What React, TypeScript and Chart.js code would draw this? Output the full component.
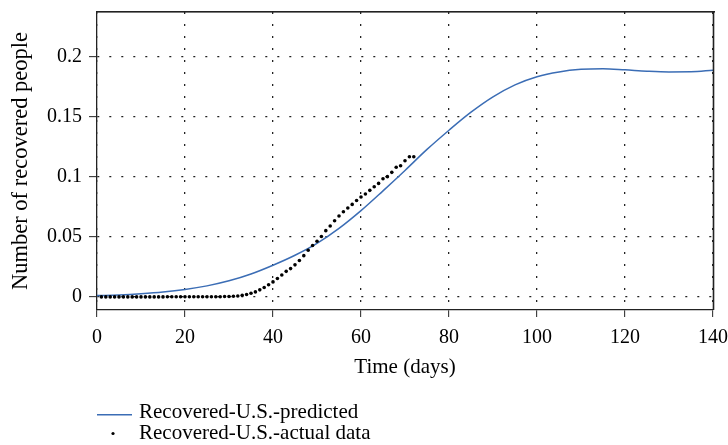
import React, { useEffect, useRef } from "react";
import { Chart, registerables } from "chart.js";

Chart.register(...registerables);

const predDays = [0, 5, 10, 15, 20, 25, 30, 35, 40, 45, 50, 55, 60, 65, 70, 75, 80, 85, 90, 95, 100, 105, 110, 115, 120, 125, 130, 135, 140];
const predValues = [0.0012, 0.0018, 0.0028, 0.0042, 0.0063, 0.0093, 0.0135, 0.0192, 0.0265, 0.0348, 0.0447, 0.0572, 0.072, 0.0885, 0.1055, 0.123, 0.139, 0.154, 0.1668, 0.1768, 0.1836, 0.1876, 0.1897, 0.1902, 0.1893, 0.1882, 0.1876, 0.1877, 0.189];

const actualDays = [1, 2, 3, 4, 5, 6, 7, 8, 9, 10, 11, 12, 13, 14, 15, 16, 17, 18, 19, 20, 21, 22, 23, 24, 25, 26, 27, 28, 29, 30, 31, 32, 33, 34, 35, 36, 37, 38, 39, 40, 41, 42, 43, 44, 45, 46, 47, 48, 49, 50, 51, 52, 53, 54, 55, 56, 57, 58, 59, 60, 61, 62, 63, 64, 65, 66, 67, 68, 69, 70, 71, 72];
const actualValues = [0.0001, 0.0001, 0.0001, 0.0001, 0.0001, 0.0001, 0.0001, 0.0001, 0.0001, 0.0001, 0.0001, 0.0001, 0.0001, 0.0001, 0.0001, 0.0002, 0.0002, 0.0002, 0.0002, 0.0002, 0.0002, 0.0002, 0.0002, 0.0002, 0.0002, 0.0002, 0.0003, 0.0003, 0.0004, 0.0005, 0.0006, 0.0009, 0.0014, 0.0021, 0.0031, 0.0043, 0.006, 0.008, 0.0103, 0.0126, 0.0154, 0.0184, 0.0214, 0.0237, 0.0268, 0.0305, 0.0345, 0.039, 0.043, 0.0465, 0.0505, 0.0553, 0.0592, 0.0636, 0.0675, 0.0711, 0.0742, 0.0772, 0.0805, 0.0833, 0.0858, 0.0889, 0.0919, 0.0947, 0.0986, 0.1003, 0.1039, 0.1081, 0.1094, 0.1136, 0.1169, 0.1169];

const xTicks = [0, 20, 40, 60, 80, 100, 120, 140];
const yTicks = [0, 0.05, 0.1, 0.15, 0.2];
const seriesLabels = ["Recovered-U.S.-predicted", "Recovered-U.S.-actual data"];
const xTitle = "Time (days)";
const yTitle = "Number of recovered people";

const FONT = '"Liberation Serif", "Times New Roman", serif';
const BLUE = "#3b6db5";

const decorPlugin = {
  id: "decorFrameLegend",
  afterDraw(chart: any) {
    const { ctx, chartArea } = chart;
    ctx.save();
    const L = Math.round(chartArea.left);
    const T = Math.round(chartArea.top);
    const R = Math.round(chartArea.right);
    const B = Math.round(chartArea.bottom);
    ctx.fillStyle = "#222";
    ctx.fillRect(L, T - 1, R - L + 2, 1.6);
    ctx.fillRect(R - 0.3, T - 1, 1.6, B - T + 1);

    ctx.font = `21px ${FONT}`;
    ctx.textBaseline = "alphabetic";
    ctx.textAlign = "left";
    ctx.fillStyle = BLUE;
    ctx.fillRect(97, 414, 35, 1.5);
    ctx.fillStyle = "#000";
    ctx.fillText(seriesLabels[0], 139, 418);
    ctx.beginPath();
    ctx.arc(113, 433.5, 1.6, 0, Math.PI * 2);
    ctx.fill();
    ctx.fillText(seriesLabels[1], 139, 439);
    ctx.restore();
  },
};

export default function App() {
  const ref = useRef<HTMLCanvasElement | null>(null);

  useEffect(() => {
    if (!ref.current) return;
    const chart = new Chart(ref.current, {
      type: "line",
      data: {
        datasets: [
          {
            label: seriesLabels[0],
            data: predDays.map((d, i) => ({ x: d, y: predValues[i] })),
            borderColor: BLUE,
            borderWidth: 1.5,
            pointRadius: 0,
            cubicInterpolationMode: "monotone",
            fill: false,
            order: 2,
          },
          {
            label: seriesLabels[1],
            data: actualDays.map((d, i) => ({ x: d, y: actualValues[i] })),
            showLine: false,
            pointRadius: 1.8,
            pointBackgroundColor: "#000",
            pointBorderWidth: 0,
            borderColor: "#000",
            order: 1,
          },
        ],
      },
      options: {
        animation: false,
        responsive: false,
        devicePixelRatio: 1,
        layout: { padding: { left: 0, right: 15, top: 12, bottom: 0 } },
        plugins: {
          legend: { display: false },
          tooltip: { enabled: false },
        },
        scales: {
          x: {
            type: "linear",
            position: "bottom",
            min: 0,
            max: 140,
            afterBuildTicks: (s: any) => {
              s.ticks = xTicks.map((v) => ({ value: v }));
            },
            afterFit: (s: any) => {
              s.height = 135;
              s.paddingLeft = 0;
              s.paddingRight = 0;
            },
            ticks: {
              color: "#000",
              font: { family: FONT, size: 20 },
              padding: 9,
              maxRotation: 0,
              autoSkip: false,
            },
            grid: {
              color: "#222",
              lineWidth: 1.3,
              tickLength: 7,
              tickColor: "#222",
              tickWidth: 1,
            },
            border: { display: true, color: "#222", width: 1.3, dash: [2, 10] },
            title: {
              display: true,
              text: xTitle,
              color: "#000",
              font: { family: FONT, size: 21 },
              padding: { top: 4, bottom: 65 },
            },
          },
          y: {
            type: "linear",
            position: "left",
            min: -0.0108,
            max: 0.2375,
            afterBuildTicks: (s: any) => {
              s.ticks = yTicks.map((v) => ({ value: v }));
            },
            afterFit: (s: any) => {
              s.width = 97;
              s.paddingTop = 0;
              s.paddingBottom = 0;
            },
            ticks: {
              color: "#000",
              font: { family: FONT, size: 20 },
              padding: 7,
              callback: (v: any) => String(v),
            },
            grid: {
              color: "#222",
              lineWidth: 1.3,
              tickLength: 8,
              tickColor: "#222",
              tickWidth: 1,
            },
            border: { display: true, color: "#222", width: 1.3, dash: [2, 10] },
            title: {
              display: true,
              text: yTitle,
              color: "#000",
              font: { family: FONT, size: 22.5 },
              padding: { top: 8, bottom: 0 },
            },
          },
        },
      },
      plugins: [decorPlugin],
    } as any);
    return () => chart.destroy();
  }, []);

  return (
    <div style={{ position: "absolute", left: 0, top: 0, width: 728, height: 445, background: "#fff" }}>
      <canvas ref={ref} width={728} height={445} />
    </div>
  );
}
